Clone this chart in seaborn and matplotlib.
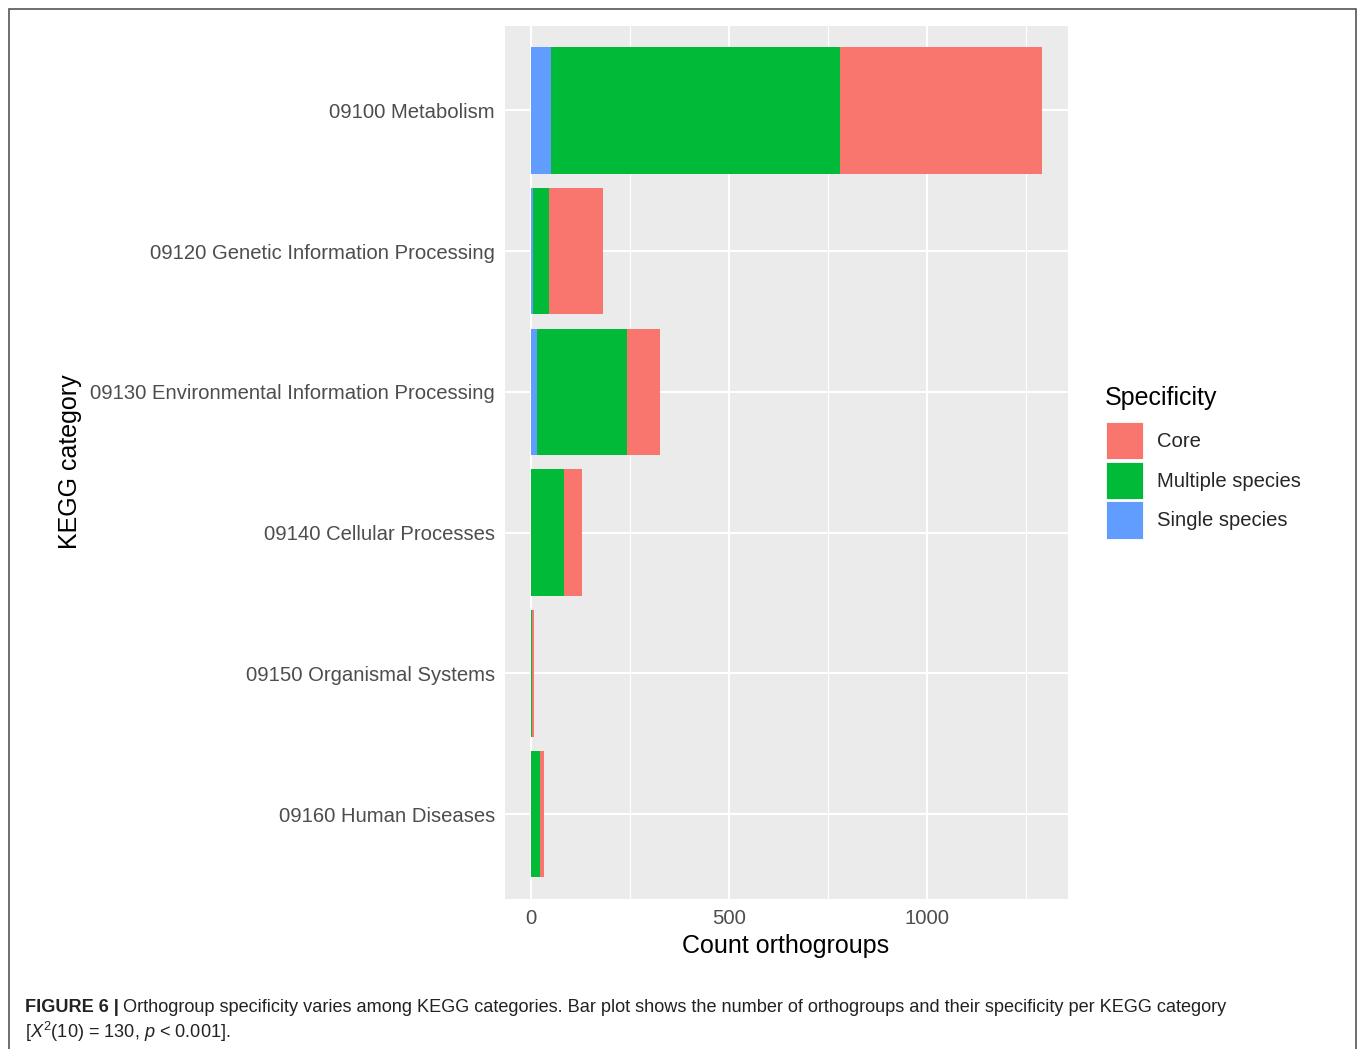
import matplotlib
matplotlib.use("Agg")
import matplotlib.pyplot as plt
from matplotlib.patches import Patch, Rectangle
from matplotlib.ticker import MultipleLocator
import numpy as np
import pandas as pd
import seaborn as sns

# KEGG categories and orthogroup counts per specificity class
categories = [
    "09100 Metabolism",
    "09120 Genetic Information Processing",
    "09130 Environmental Information Processing",
    "09140 Cellular Processes",
    "09150 Organismal Systems",
    "09160 Human Diseases",
]
single_species = [51, 5, 16, 1, 0, 1]
multiple_species = [730, 41, 228, 83, 3, 23]
core = [511, 137, 83, 45, 5, 9]

specificity = ["Core", "Multiple species", "Single species"]
palette = {"Core": "#F8766D", "Multiple species": "#00BA38", "Single species": "#619CFF"}

x_ticks = [0, 500, 1000]

sns.set_style("darkgrid", {
    "axes.facecolor": "#EBEBEB",
    "grid.color": "white",
    "axes.edgecolor": "none",
})
plt.rcParams["font.family"] = ["Liberation Sans", "DejaVu Sans"]
plt.rcParams["mathtext.fontset"] = "custom"
plt.rcParams["mathtext.rm"] = "Liberation Sans"
plt.rcParams["mathtext.it"] = "Liberation Sans:italic"

df = pd.DataFrame({
    "category": categories,
    "Single species": single_species,
    "Multiple species": multiple_species,
    "Core": core,
})
# cumulative extents so that later bars sit on top of earlier ones
df["to_single"] = df["Single species"]
df["to_multiple"] = df["Single species"] + df["Multiple species"]
df["to_core"] = df["to_multiple"] + df["Core"]

W, H = 1358, 1049
fig = plt.figure(figsize=(W / 100, H / 100), dpi=100)
ax = fig.add_axes([505 / W, 1 - 898.5 / H, (1068 - 505) / W, (898.5 - 26) / H])

for col, name in [("to_core", "Core"), ("to_multiple", "Multiple species"), ("to_single", "Single species")]:
    sns.barplot(data=df, x=col, y="category", order=categories, orient="h",
                color=palette[name], width=0.9, linewidth=0, saturation=1,
                errorbar=None, ax=ax)

xmax = df["to_core"].max()
ax.set_xlim(-0.05 * xmax, 1.05 * xmax)
ax.set_ylim(len(categories) - 0.4, -0.6)

ax.xaxis.set_major_locator(MultipleLocator(500))
ax.xaxis.set_minor_locator(MultipleLocator(250))
ax.set_xticks(x_ticks)
ax.set_xticklabels([str(t) for t in x_ticks])
ax.grid(which="major", color="white", linewidth=1.5)
ax.grid(which="minor", axis="x", color="white", linewidth=0.8)
ax.set_axisbelow(True)
ax.tick_params(axis="both", which="major", length=4.3, width=1.1, color="#333333",
               labelsize=14.6, labelcolor="#4D4D4D", pad=3)
ax.tick_params(axis="x", which="minor", length=0)
ax.set_xlabel("")
ax.set_ylabel("")
for s in ax.spines.values():
    s.set_visible(False)

fig.text(786 / W, 1 - 946 / H, "Count orthogroups", ha="center", va="center", fontsize=18, color="black")
fig.text(70 / W, 1 - 462 / H, "KEGG category", ha="center", va="center", rotation=90, fontsize=18, color="black")

# legend: title drawn on its own, keys below it
fig.text(1105 / W, 1 - 398 / H, "Specificity", ha="left", va="center", fontsize=18, color="black")
handles = [Patch(facecolor=palette[n], edgecolor="white", linewidth=0.6, label=n) for n in specificity]
leg = fig.legend(handles=handles, loc="upper left", bbox_to_anchor=(1106 / W, 1 - 422 / H),
                 frameon=False, fontsize=14.6,
                 handlelength=1.82, handleheight=2.45, labelspacing=0.12, handletextpad=0.7,
                 borderpad=0, borderaxespad=0)

# figure frame and caption
fig.patches.append(Rectangle((8.5 / W, -0.05), (1355.5 - 8.5) / W, 1.05 - 8.5 / H,
                             transform=fig.transFigure, fill=False, edgecolor="#555555", linewidth=1.2))

fig.canvas.draw()
r = fig.canvas.get_renderer()
bold = fig.text(25 / W, 1 - 1007 / H, "FIGURE 6 |", fontsize=13.1, fontweight="bold",
                color="#222222", ha="left", va="center")
bb = bold.get_window_extent(renderer=r)
fig.text((bb.x1 + 4) / W, 1 - 1007 / H,
         "Orthogroup specificity varies among KEGG categories. Bar plot shows the number of "
         "orthogroups and their specificity per KEGG category",
         fontsize=13.1, color="#222222", ha="left", va="center")
fig.text(25 / W, 1 - 1032 / H, r"[$\mathit{X}^2$(10) = 130, $\mathit{p}$ < 0.001].",
         fontsize=13.1, color="#222222", ha="left", va="center")

fig.savefig("out.png", dpi=100)
